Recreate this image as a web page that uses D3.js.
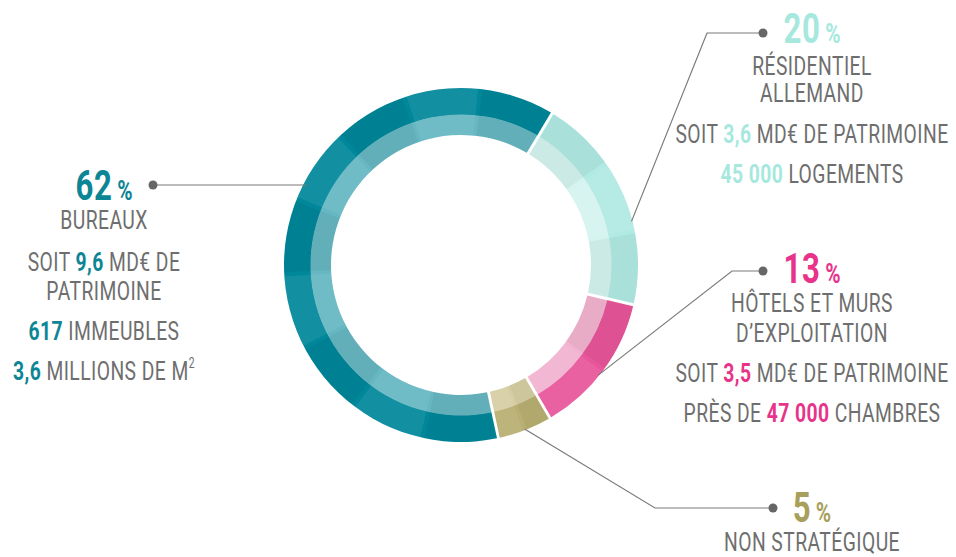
<!DOCTYPE html>
<html><head><meta charset="utf-8">
<script src="https://cdn.jsdelivr.net/npm/d3@7"></script>
<style>
html,body{margin:0;padding:0;background:#fff;}
svg{display:block;}
text{font-family:Roboto,"Liberation Sans",sans-serif;}
</style></head>
<body><svg id="c" width="956" height="557"></svg>
<script>
// ---- data ----
const categories = ["Résidentiel allemand","Hôtels et murs d'exploitation","Non stratégique","Bureaux"];
const shares = [20, 13, 5, 62];
const outerColors = ["#B0EAE2","#E8559A","#B9AF72","#00879A"];
const innerColors = ["#D5F4EF","#F2B3D0","#D6CEA3","#66B7C2"];
const textColors  = ["#A6E8DE","#E8338A","#A99F5C","#0C8595"];
const pctLabels = ["20","13","5","62"];
const labelLines = [
  [ [["RÉSIDENTIEL",false]], [["ALLEMAND",false]], [["SOIT ",false],["3,6",true],[" MD€ DE PATRIMOINE",false]], [["45 000",true],["  LOGEMENTS",false]] ],
  [ [["HÔTELS ET MURS",false]], [["D’EXPLOITATION",false]], [["SOIT ",false],["3,5",true],[" MD€ DE PATRIMOINE",false]], [["PRÈS DE ",false],["47 000",true],[" CHAMBRES",false]] ],
  [ [["NON STRATÉGIQUE",false]] ],
  [ [["BUREAUX",false]], [["SOIT ",false],["9,6",true],[" MD€ DE",false]], [["PATRIMOINE",false]], [["617",true],[" IMMEUBLES",false]], [["3,6",true],[" MILLIONS DE M",false],["2",false,"sup"]] ]
];

// ---- layout ----
const svg = d3.select("#c");
const cx = 461, cy = 265;
const R0 = 130, R1 = 150, R2 = 177;
const startDeg = 31;

const pie = d3.pie().sort(null).value(d => d)
  .startAngle(startDeg * Math.PI/180).endAngle((startDeg+360) * Math.PI/180);
const arcs = pie(shares);

const outerArc = d3.arc().innerRadius(R1).outerRadius(R2).padAngle(0.016).padRadius(R2);
const innerArc = d3.arc().innerRadius(R0).outerRadius(R1 + 0.5).padAngle(0.016).padRadius(R2);

const g = svg.append("g").attr("transform", `translate(${cx},${cy})`);
g.selectAll("path.o").data(arcs).join("path").attr("class","o")
  .attr("d", outerArc).attr("fill", (d,i) => outerColors[i]);
g.selectAll("path.i").data(arcs).join("path").attr("class","i")
  .attr("d", innerArc).attr("fill", (d,i) => innerColors[i]);

// subtle facets
arcs.forEach((a, i) => {
  const n = Math.max(2, Math.round((a.endAngle - a.startAngle) / 0.45));
  const step = (a.endAngle - a.startAngle) / n;
  for (let k = 0; k < n; k++) {
    const s = a.startAngle + k*step + 0.012, e = a.startAngle + (k+1)*step - 0.012;
    const dark = (k % 2 === 0);
    g.append("path")
      .attr("d", d3.arc().innerRadius(R0).outerRadius(R2).startAngle(s).endAngle(e)())
      .attr("fill", dark ? "#000" : "#fff")
      .attr("opacity", dark ? 0.04 : 0.07);
  }
});

// ---- labels ----
const gray = "#6E6E6E";
const lineColor = "#7A7A7A";
const blocks = [
  {cx: 812, pctY: 43, lines: [75, 102, 143, 183], dot: [763, 33], elbow: [707, 33], ring: 0.62},
  {cx: 812, pctY: 283, lines: [312, 342, 382, 422], dot: [763, 271], elbow: [732, 271], ring: 0.55},
  {cx: 812, pctY: 522, lines: [551], dot: [773, 508], elbow: [655, 508], ring: 0.5},
  {cx: 104, pctY: 200, lines: [229, 271, 300, 340, 380], dot: [153, 185], elbow: null, ring: null}
];

const probe = svg.append("text").attr("font-size", 26).attr("letter-spacing", 0.6)
  .text("SOIT 3,6 MD€ DE PATRIMOINE");
const natW = probe.node().getComputedTextLength();
probe.remove();
const sx = 272 / natW;

blocks.forEach((b, i) => {
  const a = arcs[i];
  if (b.elbow) {
    const ang = a.startAngle + (a.endAngle - a.startAngle) * b.ring;
    const endPt = [cx + (R2 - 1) * Math.sin(ang), cy - (R2 - 1) * Math.cos(ang)];
    svg.append("polyline")
      .attr("points", [b.dot, b.elbow, endPt].map(p => p.join(",")).join(" "))
      .attr("fill","none").attr("stroke", lineColor).attr("stroke-width", 1.2);
  } else {
    const dy = b.dot[1] - cy;
    const x = cx - Math.sqrt(R2 * R2 - dy*dy);
    svg.append("line").attr("x1", b.dot[0]).attr("y1", b.dot[1]).attr("x2", x + 3).attr("y2", b.dot[1])
      .attr("stroke", lineColor).attr("stroke-width", 1.2);
  }
  svg.append("circle").attr("cx", b.dot[0]).attr("cy", b.dot[1]).attr("r", 4.5).attr("fill", "#666");

  const tg = svg.append("g").attr("transform", `translate(${b.cx},0) scale(${sx},1)`);
  const pt = tg.append("text").attr("x", 0).attr("y", b.pctY).attr("text-anchor","middle")
    .attr("fill", textColors[i]).attr("font-weight", "bold");
  pt.append("tspan").attr("font-size", 42).attr("letter-spacing", 1).attr("dy", 0).text(pctLabels[i]);
  pt.append("tspan").attr("font-size", 28).attr("dx", 6).text("%");

  labelLines[i].forEach((segs, j) => {
    const t = tg.append("text").attr("x", 0).attr("y", b.lines[j]).attr("text-anchor","middle")
      .attr("font-size", 26).attr("letter-spacing", 0.6);
    segs.forEach(s => {
      const ts = t.append("tspan").text(s[0])
        .attr("fill", s[1] ? textColors[i] : gray)
        .attr("font-weight", s[1] ? "bold" : "normal");
      if (s[2] === "sup") ts.attr("font-size", 14).attr("dy", -12);
    });
  });
});
</script></body></html>
